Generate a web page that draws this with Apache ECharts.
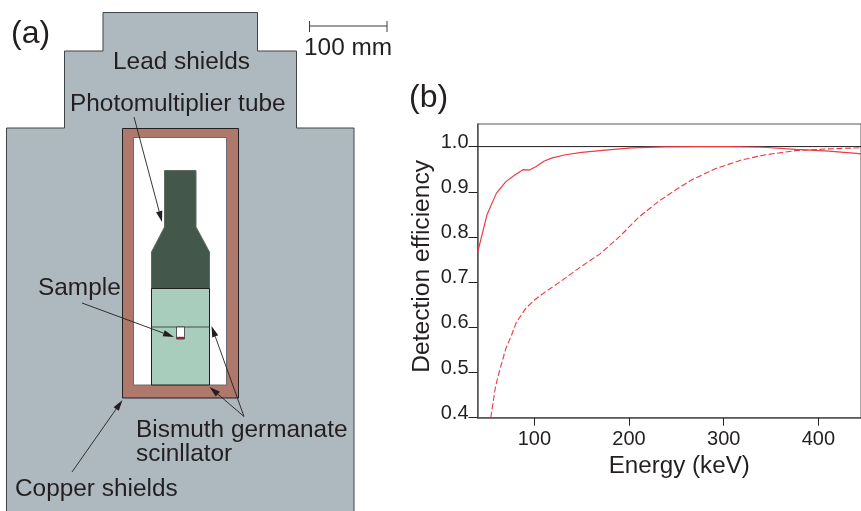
<!DOCTYPE html>
<html><head><meta charset="utf-8">
<style>html,body{margin:0;padding:0;background:#fff}#c{width:861px;height:511px}</style>
<script src="https://cdn.jsdelivr.net/npm/echarts@6/dist/echarts.min.js"></script>
</head><body><div id="c"></div>
<script>
const xTicks=[100,200,300,400];
const yTicks=[0.4,0.5,0.6,0.7,0.8,0.9,1.0];
const unityLine=[[40,1],[445,1]];
const thinDetector=[[40,0.765],[50,0.849],[60,0.897],[70,0.9225],[79,0.9365],[88,0.949],[95,0.948],[102,0.956],[110,0.9675],[119,0.975],[133,0.982],[150,0.987],[175,0.992],[203,0.997],[237,0.9993],[272,1.0],[307,1.0],[342,0.9985],[376,0.994],[411,0.99],[440,0.985],[445,0.984]];
const thickDetector=[[54,0.4],[59,0.4686],[63.5,0.5055],[70,0.5535],[76,0.583],[81,0.611],[91,0.642],[100,0.6605],[112,0.679],[126,0.699],[149,0.734],[169,0.762],[190,0.8007],[211,0.845],[232,0.88],[249,0.904],[266,0.926],[291,0.951],[319,0.9705],[343,0.9815],[376,0.991],[411,0.995],[440,0.997],[445,0.9975]];

const INK='#231f20',FONT='"Liberation Sans",Arial,sans-serif';
const SHIELD='#aeb9bf',COPPER='#ae786c',PMT='#44574b',SCINT='#a8cdbd';
function poly(points,fill,stroke,lw){return{type:'polygon',shape:{points},style:{fill,stroke:stroke||'#3a3a3a',lineWidth:lw==null?1:lw},silent:true};}
function seg(a,b,color,lw){return{type:'line',shape:{x1:a[0],y1:a[1],x2:b[0],y2:b[1]},style:{stroke:color||INK,lineWidth:lw||0.9},silent:true};}
function arrow(a,b){
  const dx=b[0]-a[0],dy=b[1]-a[1],L=Math.hypot(dx,dy),ux=dx/L,uy=dy/L,len=11,w=3.2;
  const bx=b[0]-ux*len,by=b[1]-uy*len;
  return[seg(a,[bx,by],INK,0.9),{type:'polygon',shape:{points:[b,[bx-uy*w,by+ux*w],[bx+uy*w,by-ux*w]]},style:{fill:INK,stroke:null},silent:true}];
}
function txt(t,x,y,size){return{type:'text',x,y,style:{text:t,fill:INK,font:size+'px '+FONT,textAlign:'left',textVerticalAlign:'middle'},silent:true};}
const graphics=[
 poly([[103,12.5],[257.5,12.5],[257.5,51],[296.5,51],[296.5,128],[354,128],[354,515],[6.5,515],[6.5,128],[64.5,128],[64.5,51],[103,51]],SHIELD,'#3f4446',1),
 poly([[122.5,128.5],[238.5,128.5],[238.5,398],[122.5,398]],COPPER,'#231f20',1),
 poly([[133.5,137.5],[226.5,137.5],[226.5,385],[133.5,385]],'#ffffff','#6d6d6d',1),
 poly([[164.5,170.5],[196,170.5],[196,227],[209.5,252],[209.5,288.5],[151.5,288.5],[151.5,252],[164.5,227]],PMT,'#5d6a62',1),
 poly([[151.5,288.5],[209.5,288.5],[209.5,385],[151.5,385]],SCINT,'#231f20',1),
 seg([151.5,327],[209.5,327],'#3f5048',1.2),
 poly([[176.5,327],[184.5,327],[184.5,339],[176.5,339]],'#ffffff','#333',0.8),
 poly([[177,336.8],[184,336.8],[184,339],[177,339]],'#8a2a3a',null,0),
 ...arrow([134,117],[162,222]),
 ...arrow([82,303],[174,337]),
 ...arrow([244,416.5],[211.5,326]),
 ...arrow([244,416.5],[209.5,387]),
 ...arrow([72,472],[122.5,400]),
 seg([309.5,26],[387,26],'#3c3c3c',1),seg([309.5,21],[309.5,32],'#3c3c3c',1),seg([387,21],[387,32],'#3c3c3c',1),
 txt('(a)',11,34,32),txt('(b)',409,98,32),
 txt('100 mm',304,48,24.4),
 txt('Lead shields',113,62,24.4),
 txt('Photomultiplier tube',70,104,24.4),
 txt('Sample',38,288,24.4),
 txt('Bismuth germanate',136,430,24.4),
 txt('scinllator',136,454,24.4),
 txt('Copper shields',15,489,24.4)
];
const chart=echarts.init(document.getElementById('c'),null,{renderer:'canvas'});
chart.setOption({
 animation:false,backgroundColor:'#fff',
 grid:{left:477.5,top:124,width:388,height:293.7,show:true,borderColor:'#555',borderWidth:1,backgroundColor:'transparent',containLabel:false},
 xAxis:{type:'value',min:40,max:445,
  axisLine:{show:true,lineStyle:{color:'#555',width:1.5}},
  axisTick:{show:true,length:8,customValues:xTicks,lineStyle:{color:'#222'}},
  splitLine:{show:false},
  axisLabel:{customValues:xTicks,fontFamily:FONT,fontSize:20,color:INK,margin:12,formatter:v=>String(v)},
  name:'Energy (keV)',nameLocation:'middle',nameGap:31,nameTextStyle:{fontFamily:FONT,fontSize:24.2,color:INK,padding:[0,0,0,20]}},
 yAxis:{type:'value',min:0.4,max:1.05,
  axisLine:{show:true,lineStyle:{color:'#555',width:1.5}},
  axisTick:{show:true,length:9,customValues:yTicks,lineStyle:{color:'#222'}},
  splitLine:{show:false},
  axisLabel:{customValues:yTicks,fontFamily:FONT,fontSize:20,color:INK,margin:9,verticalAlign:'bottom',lineHeight:9,formatter:v=>v.toFixed(1)},
  name:'Detection efficiency',nameLocation:'middle',nameGap:43,nameTextStyle:{fontFamily:FONT,fontSize:24.6,color:INK,padding:[0,0,0,9]}},
 series:[
  {name:'Unity',type:'line',data:unityLine,symbol:'none',lineStyle:{color:'#231f20',width:1},z:1},
  {name:'Thin',type:'line',data:thinDetector,symbol:'none',lineStyle:{color:'#ee3a43',width:1.2},z:3},
  {name:'Thick',type:'line',data:thickDetector,symbol:'none',lineStyle:{color:'#ee3a43',width:1.1,type:[6,2.5]},z:3}
 ],
 graphic:{elements:graphics}
});
</script></body></html>
